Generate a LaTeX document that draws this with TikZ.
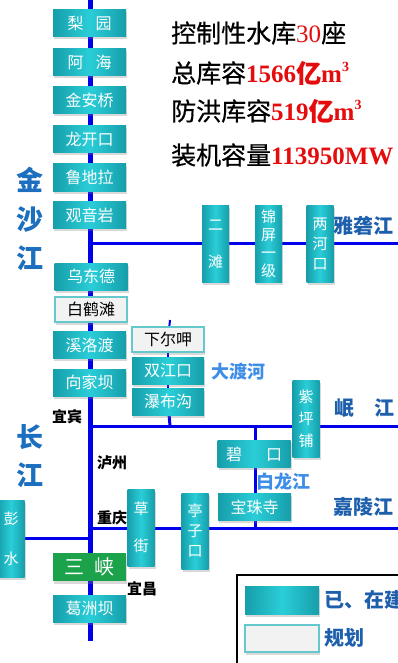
\documentclass[tikz,border=0pt]{standalone}
\usepackage{fontspec}
\setmainfont{Noto Sans CJK SC}
\newfontfamily\numfont{Liberation Serif}
\newfontfamily\statfont[FakeBold=0.6]{Noto Sans CJK SC}
\usetikzlibrary{shadows,backgrounds}
\definecolor{river}{RGB}{0,0,235}
\definecolor{tealD}{RGB}{22,158,170}
\definecolor{tealL}{RGB}{42,206,216}
\definecolor{labD}{RGB}{30,95,172}
\definecolor{labL}{RGB}{62,142,232}
\definecolor{labM}{RGB}{28,110,190}
\definecolor{gbox}{RGB}{28,162,74}
\definecolor{pbord}{RGB}{100,200,205}
\definecolor{pfill}{RGB}{242,242,242}
\definecolor{numred}{RGB}{228,12,12}
\tikzset{
  shadowed/.style={drop shadow={opacity=0.3, shadow xshift=1pt, shadow yshift=-2.5pt}},
  dam/.style={shadowed, left color=tealD, right color=tealD, middle color=tealL, text=white,
    font=\fontsize{16}{18}\selectfont, inner sep=0pt, minimum width=73pt, minimum height=27pt},
  vdam/.style={dam, minimum width=27pt, minimum height=77pt, font=\fontsize{15}{19}\selectfont, align=center},
  plan/.style={shadowed, fill=pfill, draw=pbord, line width=1.2pt, text=black,
    font=\fontsize{16}{18}\selectfont, inner sep=0pt, minimum width=72pt, minimum height=25pt},
  green/.style={shadowed, fill=gbox, text=white, font=\fontsize{20}{22}\selectfont,
    inner sep=0pt, minimum width=73pt, minimum height=28pt},
  riv/.style={river, line width=3pt},
  mainriv/.style={river, line width=5pt},
  thinriv/.style={river, line width=2pt},
  bigl/.style={text=labM, font=\fontsize{27}{30}\selectfont\bfseries, inner sep=0pt},
  darkl/.style={text=labD, font=\fontsize{20}{22}\selectfont\bfseries, inner sep=0pt},
  lightl/.style={text=labL, font=\fontsize{18}{20}\selectfont\bfseries, inner sep=0pt},
  city/.style={text=black, font=\fontsize{15}{16}\selectfont\bfseries, inner sep=0pt},
  stat/.style={anchor=west, text=black, font=\fontsize{25}{27}\selectfont\statfont, inner sep=0pt},
  legl/.style={anchor=west, text=labD, font=\fontsize{20}{22}\selectfont\bfseries, inner sep=0pt}
}
\newcommand{\rn}[1]{{\numfont\bfseries\color{numred}#1}}
\newcommand{\cubem}{{\numfont\bfseries\color{numred}m\raisebox{0.42em}{\fontsize{14}{14}\selectfont 3}}}
\begin{document}
\begin{tikzpicture}[x=1pt,y=-1pt]
\useasboundingbox (0,0) rectangle (398,663);
% coordinates
\coordinate (mtop) at (90,0);
\coordinate (mbot) at (90,641);
\coordinate (jy) at (90,243);
\coordinate (ye) at (400,243);
\coordinate (jm) at (90,426);
\coordinate (me) at (400,426);
\coordinate (dtop) at (170,320);
\coordinate (jd) at (170,426);
\coordinate (jb) at (255,426);
\coordinate (jbj) at (255,528);
\coordinate (jj) at (90,528);
\coordinate (je) at (400,528);
\coordinate (jp) at (90,538);
% Jinsha / Changjiang main column
\node[dam] (liyuan) at (89.5,23.5) {梨\hspace{0.75em}园};
\node[dam] (ahai) at (89.5,62) {阿\hspace{0.75em}海};
\node[dam] (jinanqiao) at (89.5,100.5) {金安桥};
\node[dam] (longkaikou) at (89.5,139.5) {龙开口};
\node[dam] (ludila) at (89.5,177.5) {鲁地拉};
\node[dam] (guanyinyan) at (89.5,215) {观音岩};
\node[dam] (wudongde) at (91,276.5) {乌东德};
\node[plan] (baihetan) at (91,309.5) {白鹤滩};
\node[dam] (xiluodu) at (89.5,345) {溪洛渡};
\node[dam] (xiangjiaba) at (89.5,382.5) {向家坝};
\node[green] (sanxia) at (89.5,567) {三\hspace{0.5em}峡};
\node[dam] (gezhouba) at (89.5,608.5) {葛洲坝};
% Yalong
\node[vdam] (ertan) at (215.5,244) {二\\[18pt]滩};
\node[vdam] (jinping) at (268.5,244) {锦\\[-1pt]屏\\[-1pt]一\\[-1pt]级};
\node[vdam] (lianghekou) at (320,244) {两\\[1pt]河\\[1pt]口};
% Dadu
\node[plan] (xiaerga) at (168,339.5) {下尔呷};
\node[dam, minimum width=72pt] (shuangjiangkou) at (168,370.5) {双江口};
\node[dam, minimum width=72pt] (pubugou) at (168,401.5) {瀑布沟};
% Min
\node[vdam] (zipingpu) at (306,418.5) {紫\\[3pt]坪\\[3pt]铺};
% Bailong / Jialing
\node[dam] (bikou) at (254,454) {碧\hspace{1.5em}口};
\node[dam] (baozhusi) at (254.5,507) {宝珠寺};
\node[vdam, minimum height=76pt] (tingzikou) at (195,531) {亭\\[1pt]子\\[1pt]口};
\node[vdam] (caojie) at (141,527.5) {草\\[18pt]街};
\node[vdam] (pengshui) at (11,538.5) {彭\\[21pt]水};
% rivers
\begin{pgfonlayer}{background}
\draw[mainriv] (mtop) -- (mbot);
\draw[riv] (jy) -- (ye);
\draw[riv] (jm) -- (me);
\draw[thinriv] (dtop) -- (xiaerga);
\draw[thinriv] (xiaerga) -- (shuangjiangkou);
\draw[thinriv] (shuangjiangkou) -- (pubugou);
\draw[riv] (pubugou) -- (jd);
\draw[riv] (jb) -- (jbj);
\draw[riv] (jj) -- (je);
\draw[riv] (pengshui.east |- jp) -- (jp);
\end{pgfonlayer}
% river labels
\node[bigl] (l1) at (30,180) {金};
\node[bigl] (l2) at (30,220) {沙};
\node[bigl] (l3) at (30,258) {江};
\node[bigl] (l4) at (30,437) {长};
\node[bigl] (l5) at (30,475) {江};
\node[darkl] (lyalong) at (363,226) {雅砻江};
\node[lightl] (ldadu) at (238,372) {大渡河};
\node[darkl] (lmin) at (364,408) {岷\hspace{1em}江};
\node[lightl] (lbailong) at (283,482) {白龙江};
\node[darkl] (ljialing) at (363,507) {嘉陵江};
% cities
\node[city] (yibin) at (67,417) {宜宾};
\node[city] (luzhou) at (112,463) {泸州};
\node[city] (chongqing) at (112,518) {重庆};
\node[city] (yichang) at (142,589) {宜昌};
% statistics
\node[stat] (s1) at (171,33) {控制性水库{\numfont\color{numred}30}座};
\node[stat] (s2) at (171,73) {总库容\rn{1566}{\bfseries\color{numred}亿}\cubem};
\node[stat] (s3) at (171,111) {防洪库容\rn{519}{\bfseries\color{numred}亿}\cubem};
\node[stat] (s4) at (171,155) {装机容量\rn{113950MW}};
% legend
\node[draw=black, line width=1.5pt, inner sep=0pt, minimum width=170pt, minimum height=100pt, anchor=north west] (legend) at (236,574) {};
\node[dam, minimum width=74pt, minimum height=28pt] (legdam) at (282,600) {};
\node[plan, minimum width=74pt, minimum height=27pt] (legplan) at (282,638.5) {};
\node[legl] (legt1) at (324,600) {已、在建};
\node[legl] (legt2) at (324,638) {规划};
\end{tikzpicture}
\end{document}
